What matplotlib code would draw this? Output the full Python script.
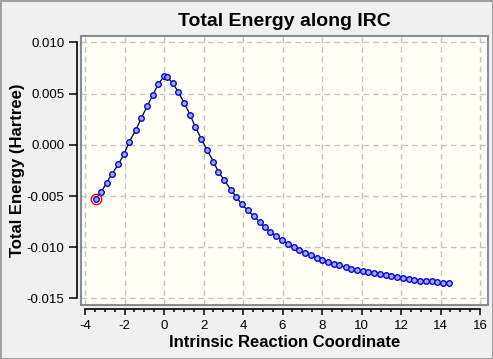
import matplotlib
matplotlib.use("Agg")
import matplotlib.pyplot as plt
from matplotlib.patches import Rectangle
from matplotlib.ticker import MultipleLocator

# IRC points
irc_x = [-3.46, -3.17, -2.90, -2.62, -2.31, -2.01, -1.76, -1.43, -1.15, -0.85,
         -0.57, -0.29, 0.02, 0.17, 0.44, 0.73, 1.03, 1.33, 1.58, 1.89,
         2.18, 2.50, 2.75, 3.05, 3.38, 3.65, 3.93, 4.24, 4.54, 4.85,
         5.10, 5.38, 5.69, 5.99, 6.28, 6.57, 6.84, 7.15, 7.46, 7.73,
         8.02, 8.32, 8.61, 8.88, 9.20, 9.47, 9.79, 10.06, 10.34, 10.65,
         10.94, 11.22, 11.51, 11.81, 12.12, 12.39, 12.67, 12.98, 13.27, 13.57,
         13.84, 14.14, 14.44]
energy = [-0.00530, -0.00456, -0.00368, -0.00280, -0.00189, -0.00085, 0.00029, 0.00144, 0.00261, 0.00378,
          0.00488, 0.00593, 0.00674, 0.00661, 0.00603, 0.00515, 0.00407, 0.00290, 0.00176, 0.00059,
          -0.00049, -0.00163, -0.00261, -0.00345, -0.00436, -0.00505, -0.00579, -0.00638, -0.00696, -0.00752,
          -0.00804, -0.00853, -0.00892, -0.00928, -0.00970, -0.00999, -0.01028, -0.01055, -0.01080, -0.01100,
          -0.01123, -0.01143, -0.01165, -0.01175, -0.01194, -0.01214, -0.01224, -0.01230, -0.01243, -0.01253,
          -0.01263, -0.01272, -0.01282, -0.01292, -0.01302, -0.01311, -0.01318, -0.01325, -0.01328, -0.01331,
          -0.01340, -0.01348, -0.01348]
selected = 0  # point marked with the red circle

plt.rcParams["font.family"] = ["Liberation Sans", "DejaVu Sans"]
plt.rcParams["axes.unicode_minus"] = False

fig = plt.figure(figsize=(4.93, 3.59), dpi=100)
fig.patch.set_facecolor("#F0F0F0")
fig.patch.set_edgecolor("#A0A0A0")
fig.patch.set_linewidth(1.0)

ax = fig.add_axes([80.5 / 493, 1 - 305 / 359, (488 - 80.5) / 493, (305 - 36) / 359])
ax.set_facecolor("#FFFFF6")

ax.plot(irc_x, energy, color="black", lw=0.9, zorder=3,
        marker="o", markersize=4.0, markerfacecolor="#A8ABC0",
        markeredgecolor="#0000FF", markeredgewidth=1.0)
ax.plot(irc_x[selected], energy[selected], "o", markersize=7.5,
        markerfacecolor="none", markeredgecolor="red", markeredgewidth=1.0, zorder=4)

ax.set_xlim(-4.228, 16.405)
ax.set_ylim(-0.015635, 0.01063)
ax.xaxis.set_major_locator(MultipleLocator(2))
ax.xaxis.set_minor_locator(MultipleLocator(0.5))
ax.yaxis.set_major_locator(MultipleLocator(0.005))
ax.yaxis.set_major_formatter(plt.FuncFormatter(lambda v, p: f"{v:.3f}"))

ax.grid(True, which="major", color="#C4C4C4", linestyle=(0, (4, 3)), lw=1.0)
ax.set_axisbelow(True)

for s in ["top", "right"]:
    ax.spines[s].set_visible(False)
ax.spines["left"].set_position(("outward", 2.6))
ax.spines["bottom"].set_position(("outward", 2.9))
ax.spines["left"].set_bounds(-0.015, 0.010)
ax.spines["bottom"].set_bounds(-4, 16)
ax.spines["left"].set_linewidth(1.2)
ax.spines["bottom"].set_linewidth(1.2)

ax.add_patch(Rectangle((0, 0), 1, 1, transform=ax.transAxes, fill=False,
                       edgecolor="#858C96", lw=1.5, clip_on=False, zorder=5))

ax.tick_params(axis="x", which="major", length=4.5, width=1.1, pad=3.5, labelsize=9.5)
ax.tick_params(axis="x", which="minor", length=2.5, width=1.1)
ax.tick_params(axis="y", which="major", length=5.8, width=1.1, pad=3.2, labelsize=9.5)

ax.set_title("Total Energy along IRC", fontsize=14, fontweight="bold", pad=7)
ax.set_xlabel("Intrinsic Reaction Coordinate", fontsize=12, fontweight="bold", labelpad=2)
ax.set_ylabel("Total Energy (Hartree)", fontsize=12, fontweight="bold", labelpad=1)

fig.savefig("out.png", dpi=100, facecolor=fig.get_facecolor(), edgecolor=fig.get_edgecolor())
